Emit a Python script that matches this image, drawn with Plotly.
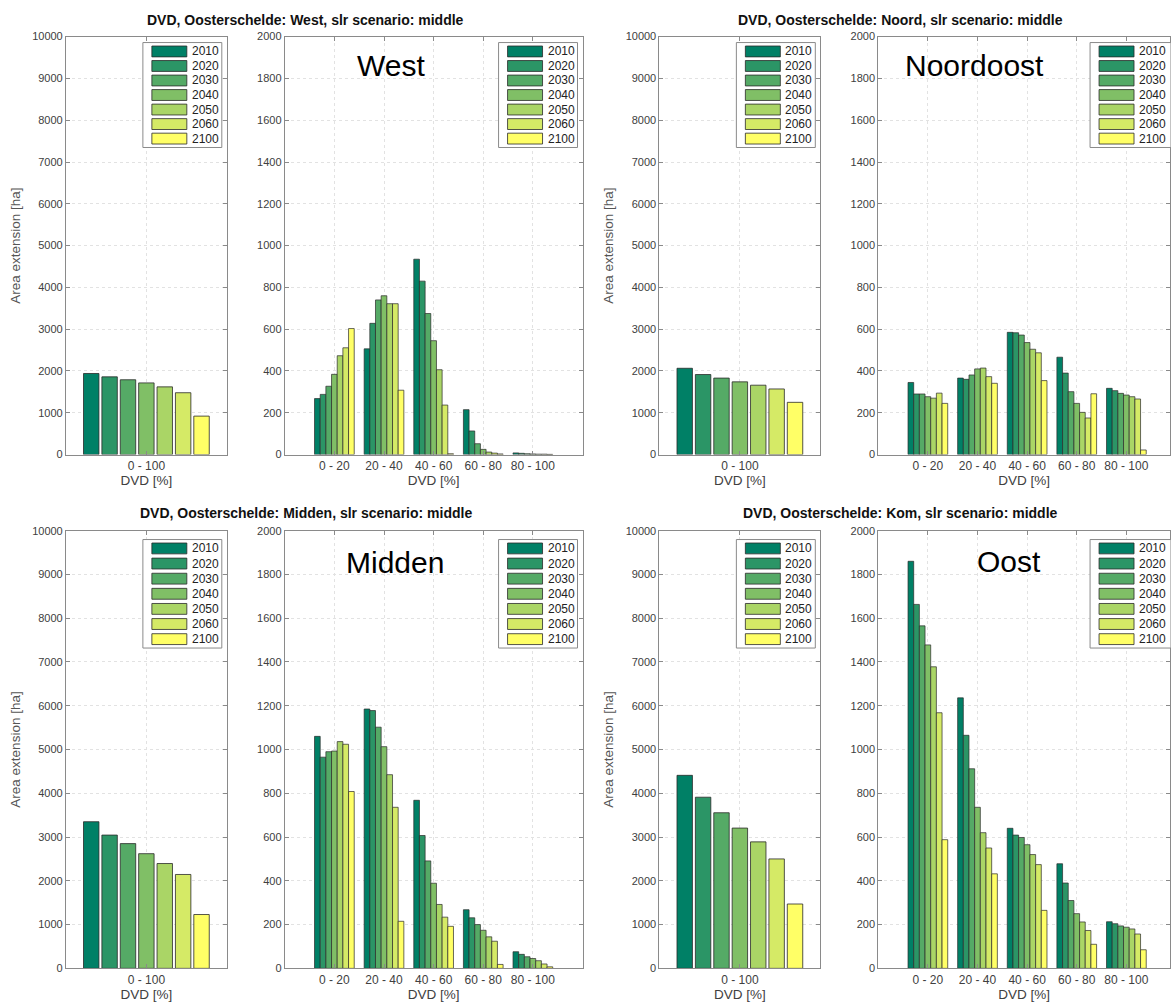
import plotly.graph_objects as go

# ---------------- data ----------------
years = ["2010", "2020", "2030", "2040", "2050", "2060", "2100"]
year_colors = ["#008066", "#2b9566", "#55aa66", "#80bf66", "#aad566", "#d5ea66", "#ffff66"]
total_label = ["0 - 100"]
bin_labels = ["0 - 20", "20 - 40", "40 - 60", "60 - 80", "80 - 100"]

# total area per scenario year (ha), DVD 0-100 %
west_total = [1940, 1860, 1790, 1715, 1620, 1480, 920]
noord_total = [2065, 1915, 1830, 1740, 1660, 1570, 1250]
midden_total = [3350, 3045, 2850, 2620, 2395, 2145, 1230]
kom_total = [4410, 3910, 3555, 3205, 2890, 2500, 1470]

# area per DVD class (rows = classes, values per year)
west_bins = [
    [268, 288, 327, 384, 473, 511, 603],
    [506, 628, 740, 760, 722, 722, 308],
    [935, 830, 675, 545, 406, 237, 4],
    [215, 113, 52, 25, 12, 7, 3],
    [8, 6, 4, 3, 2, 2, 1],
]
noord_bins = [
    [345, 290, 290, 277, 270, 294, 245],
    [366, 360, 381, 410, 414, 373, 341],
    [585, 583, 572, 536, 504, 487, 354],
    [466, 390, 301, 245, 202, 175, 291],
    [317, 306, 293, 285, 277, 266, 22],
]
midden_bins = [
    [1060, 965, 990, 993, 1036, 1024, 808],
    [1185, 1178, 1102, 1013, 885, 736, 215],
    [768, 607, 491, 389, 292, 234, 192],
    [268, 231, 200, 174, 144, 124, 18],
    [76, 64, 53, 45, 35, 20, 7],
]
kom_bins = [
    [1860, 1663, 1565, 1478, 1378, 1168, 588],
    [1236, 1065, 912, 736, 620, 550, 432],
    [640, 609, 598, 565, 520, 474, 265],
    [478, 390, 310, 250, 212, 173, 110],
    [213, 204, 194, 188, 180, 157, 85],
]

panel_titles = [
    "DVD, Oosterschelde: West, slr scenario: middle",
    "DVD, Oosterschelde: Noord, slr scenario: middle",
    "DVD, Oosterschelde: Midden, slr scenario: middle",
    "DVD, Oosterschelde: Kom, slr scenario: middle",
]
panel_labels = ["West", "Noordoost", "Midden", "Oost"]

# ---------------- layout geometry (pixels) ----------------
W, H = 1171, 1004
FONT = "Liberation Sans, Arial, Helvetica, sans-serif"
row_px = [(31, 454), (31, 454), (531, 974), (531, 974)]
legend_px = [(46, 14.7), (46, 14.7), (549, 15.3), (549, 15.3)]  # first entry centre, spacing
col_px = [((66, 227), (285, 583)), ((660, 821), (879, 1177)),
          ((66, 227), (285, 583)), ((660, 821), (879, 1177))]
title_px = [(306, 14), (901, 14), (306, 513), (901, 513)]
label_px = [(391, 60), (975, 60), (395, 563), (1010, 562)]


def px(x):
    return x / W


def py(y):
    return 1 - y / H


panels = [
    (west_total, west_bins),
    (noord_total, noord_bins),
    (midden_total, midden_bins),
    (kom_total, kom_bins),
]

fig = go.Figure()
layout = {}
shapes = []
annotations = []

n_years = len(years)
slot = 0.8 / n_years

axis_common = dict(
    showline=True, linecolor="#8a8a8a", linewidth=1, mirror="ticks",
    ticks="inside", ticklen=4, tickcolor="#8a8a8a",
    showgrid=True, gridcolor="#e2e2e2", griddash="dot", gridwidth=1,
    zeroline=False, tickfont=dict(family=FONT, size=11, color="#404040"),
)

for k, (total, bins) in enumerate(panels):
    top, bot = row_px[k]
    leg0, leg_dy = legend_px[k]
    (l0, l1), (r0, r1) = col_px[k]
    ax_left = 2 * k + 1
    ax_right = 2 * k + 2

    # ---- left subplot: total ----
    for i, yr in enumerate(years):
        fig.add_trace(go.Bar(
            x=total_label, y=[total[i]], name=yr,
            xaxis="x" if ax_left == 1 else f"x{ax_left}",
            yaxis="y" if ax_left == 1 else f"y{ax_left}",
            marker=dict(color=year_colors[i], line=dict(color="#2a2a2a", width=0.8)),
            width=slot * 0.84, offset=-0.4 + i * slot + 0.08 * slot,
            showlegend=False,
        ))
    # ---- right subplot: per class ----
    for i, yr in enumerate(years):
        fig.add_trace(go.Bar(
            x=bin_labels, y=[b[i] for b in bins], name=yr,
            xaxis=f"x{ax_right}", yaxis=f"y{ax_right}",
            marker=dict(color=year_colors[i], line=dict(color="#2a2a2a", width=0.7)),
            width=slot, offset=-0.4 + i * slot,
            showlegend=False,
        ))

    # axes
    for n, c0, c1, cats, ymax, dt, xr in (
        (ax_left, l0, l1, total_label, 10000, 1000, [-0.5, 0.5]),
        (ax_right, r0, r1, bin_labels, 2000, 200, [-1, 5]),
    ):
        c1c = min(c1, W)
        xr = [xr[0], xr[0] + (xr[1] - xr[0]) * (c1c - c0) / (c1 - c0)]
        xkey = "xaxis" if n == 1 else f"xaxis{n}"
        ykey = "yaxis" if n == 1 else f"yaxis{n}"
        xa = dict(axis_common)
        xa.update(
            domain=[px(c0), px(c1c)], anchor="y" if n == 1 else f"y{n}",
            type="category", categoryorder="array", categoryarray=cats,
            range=xr, tickfont=dict(family=FONT, size=12, color="#404040"),
            title=dict(text="DVD [%]", standoff=2,
                       font=dict(family=FONT, size=13.5, color="#404040")),
        )
        ya = dict(axis_common)
        ya.update(
            domain=[py(bot), py(top)], anchor="x" if n == 1 else f"x{n}",
            range=[0, ymax], dtick=dt, tick0=0, tickformat="d",
        )
        if n == ax_left:
            ya["title"] = dict(text="Area extension [ha]", standoff=8,
                               font=dict(family=FONT, size=13.5, color="#555555"))
        layout[xkey] = xa
        layout[ykey] = ya

        # legend (drawn box with wide swatches, like the original)
        R = min(c1, W + 4)
        bx0 = R - 84
        by0, by1 = leg0 - 9, leg0 + 6 * leg_dy + 9
        shapes.append(dict(type="rect", xref="paper", yref="paper",
                           x0=px(bx0), x1=px(c1 - 5), y0=py(by1), y1=py(by0),
                           line=dict(color="#8a8a8a", width=1), fillcolor="white", layer="above"))
        for i, yr in enumerate(years):
            yc = leg0 + i * leg_dy
            shapes.append(dict(type="rect", xref="paper", yref="paper",
                               x0=px(R - 75), x1=px(R - 40), y0=py(yc + 5.5), y1=py(yc - 5.5),
                               line=dict(color="#2a2a2a", width=0.8),
                               fillcolor=year_colors[i], layer="above"))
            annotations.append(dict(xref="paper", yref="paper", x=px(R - 37), y=py(yc),
                                    text=yr, showarrow=False, xanchor="left", yanchor="middle",
                                    font=dict(family=FONT, size=12, color="#222222")))

    # titles
    tx, ty = title_px[k]
    annotations.append(dict(xref="paper", yref="paper", x=px(tx), y=py(ty), text=f"<b>{panel_titles[k]}</b>",
                            showarrow=False, xanchor="center", yanchor="middle",
                            font=dict(family=FONT, size=14, color="#111111")))
    lx, ly = label_px[k]
    annotations.append(dict(xref="paper", yref="paper", x=px(lx), y=py(ly), text=panel_labels[k],
                            showarrow=False, xanchor="center", yanchor="middle",
                            font=dict(family=FONT, size=30, color="#000000")))

fig.update_layout(
    width=W, height=H,
    margin=dict(l=0, r=0, t=0, b=0),
    paper_bgcolor="white", plot_bgcolor="white",
    barmode="overlay",
    showlegend=False,
    shapes=shapes, annotations=annotations,
    **layout,
)

fig.write_html(
    "out.html",
    config={"displayModeBar": False},
    post_script="document.body.style.margin='0';document.body.style.overflow='hidden';",
)
